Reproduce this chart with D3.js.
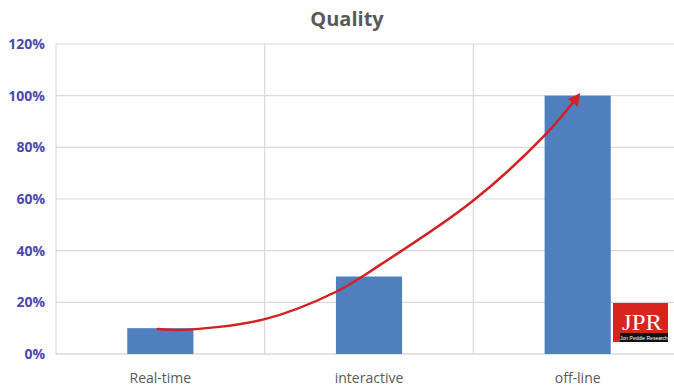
<!DOCTYPE html>
<html>
<head>
<meta charset="utf-8">
<script src="https://cdn.jsdelivr.net/npm/d3@7"></script>
<style>
  html, body { margin: 0; padding: 0; background: #fff; }
  svg { display: block; }
</style>
</head>
<body>
<svg id="chart" width="674" height="389"></svg>
<script>
// Chart data
const categories = ["Real-time", "interactive", "off-line"];
const values = [0.10, 0.30, 1.00];
const yTicks = [0, 0.2, 0.4, 0.6, 0.8, 1.0, 1.2];
const title = "Quality";

// Trend arrow, expressed in (category index, value) space
const trendIdx = [-0.012, 0.094, 0.496, 0.84, 1.053, 1.494, 1.844, 1.998];
const trendVal = [0.097, 0.093, 0.134, 0.24, 0.345, 0.59, 0.848, 0.995];

const W = 674, H = 389;
const margin = { top: 44, right: -8, bottom: 35, left: 56 };
const svg = d3.select("#chart");

const x = d3.scaleBand()
  .domain(categories)
  .range([margin.left, W - margin.right])
  .paddingInner(0.683)
  .paddingOuter(0.3415);

const y = d3.scaleLinear()
  .domain([0, 1.2])
  .range([H - margin.bottom, margin.top]);

// horizontal gridlines
svg.append("g")
  .selectAll("line")
  .data(yTicks)
  .join("line")
  .attr("x1", margin.left)
  .attr("x2", W - margin.right)
  .attr("y1", d => y(d))
  .attr("y2", d => y(d))
  .attr("stroke", d => d === 0 ? "#c8c8c8" : "#d9d9d9")
  .attr("stroke-width", 1.2);

// vertical category separators
const step = x.step();
const seps = d3.range(categories.length + 1).map(i => margin.left + i * step);
svg.append("g")
  .selectAll("line")
  .data(seps)
  .join("line")
  .attr("x1", d => d).attr("x2", d => d)
  .attr("y1", y(1.2)).attr("y2", y(0))
  .attr("stroke", "#d9d9d9")
  .attr("stroke-width", 1.2);

// y tick labels
svg.append("g")
  .selectAll("text")
  .data(yTicks)
  .join("text")
  .attr("x", 45)
  .attr("y", d => y(d))
  .attr("dy", "0.35em")
  .attr("text-anchor", "end")
  .attr("font-family", "'Open Sans', 'Noto Sans', sans-serif")
  .attr("font-weight", "bold")
  .attr("font-size", 14)
  .attr("fill", "#4a4ab0")
  .text(d => d3.format(".0%")(d));

// bars
svg.append("g")
  .selectAll("rect")
  .data(values)
  .join("rect")
  .attr("x", (d, i) => x(categories[i]))
  .attr("width", x.bandwidth())
  .attr("y", d => y(d))
  .attr("height", d => y(0) - y(d))
  .attr("fill", "#4f7fbd");

// category labels
svg.append("g")
  .selectAll("text")
  .data(categories)
  .join("text")
  .attr("x", d => x(d) + x.bandwidth() / 2)
  .attr("y", 383)
  .attr("text-anchor", "middle")
  .attr("font-family", "'Open Sans', 'Noto Sans', sans-serif")
  .attr("font-size", 14)
  .attr("fill", "#595959")
  .text(d => d);

// title
svg.append("text")
  .attr("x", 347)
  .attr("y", 26)
  .attr("text-anchor", "middle")
  .attr("font-family", "'Open Sans', 'Noto Sans', sans-serif")
  .attr("font-weight", "bold")
  .attr("font-size", 20)
  .attr("fill", "#595959")
  .text(title);

// trend arrow
const xi = d3.scaleLinear()
  .domain([0, categories.length - 1])
  .range([x(categories[0]) + x.bandwidth() / 2, x(categories[categories.length - 1]) + x.bandwidth() / 2]);

svg.append("defs").append("marker")
  .attr("id", "arrowhead")
  .attr("viewBox", "0 0 10 10")
  .attr("refX", 6).attr("refY", 5)
  .attr("markerWidth", 5).attr("markerHeight", 5)
  .attr("orient", "auto")
  .append("path")
  .attr("d", "M0,0 L10,5 L0,10 z")
  .attr("fill", "#d42020");

const trendLine = d3.line()
  .x(d => xi(d[0]))
  .y(d => y(d[1]))
  .curve(d3.curveCatmullRom.alpha(0.5));

svg.append("path")
  .datum(trendIdx.map((t, i) => [t, trendVal[i]]))
  .attr("d", trendLine)
  .attr("fill", "none")
  .attr("stroke", "#d42020")
  .attr("stroke-width", 2.5)
  .attr("stroke-linecap", "round")
  .attr("marker-end", "url(#arrowhead)");

// publisher badge
const badge = svg.append("g").attr("transform", "translate(613,303)");
badge.append("rect").attr("width", 55).attr("height", 39).attr("fill", "#d8241f");
badge.append("rect").attr("x", 7).attr("y", 30).attr("width", 48).attr("height", 9).attr("fill", "#111");
badge.append("text")
  .attr("x", 29).attr("y", 27)
  .attr("text-anchor", "middle")
  .attr("font-family", "'Liberation Serif', 'DejaVu Serif', serif")
  .attr("font-size", 24)
  .attr("fill", "#fff")
  .attr("textLength", 40)
  .attr("lengthAdjust", "spacingAndGlyphs")
  .text("JPR");
badge.append("text")
  .attr("x", 31).attr("y", 37)
  .attr("text-anchor", "middle")
  .attr("font-family", "'Liberation Sans', sans-serif")
  .attr("font-size", 5)
  .attr("fill", "#fff")
  .text("Jon Peddie Research");
</script>
</body>
</html>
